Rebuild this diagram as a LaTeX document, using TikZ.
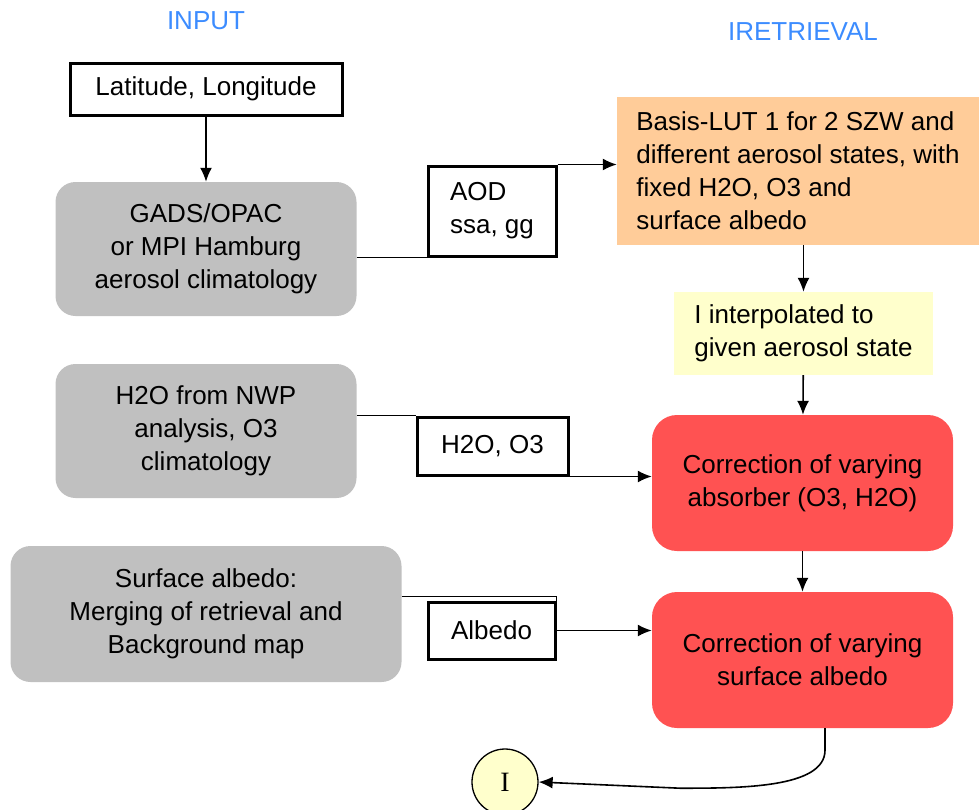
\documentclass[tikz,border=0pt]{standalone}
\usepackage{fontspec}
\setmainfont{Liberation Sans}
\newfontfamily\ifont{Liberation Serif}
\usetikzlibrary{shapes,arrows.meta,positioning}
\definecolor{titleblue}{RGB}{60,140,255}
\definecolor{climgray}{RGB}{192,192,192}
\definecolor{lutorange}{RGB}{255,204,153}
\definecolor{interpyellow}{RGB}{255,255,204}
\definecolor{corrred}{RGB}{255,82,82}
\tikzset{headline/.style={text=titleblue}}
\tikzset{inbox/.style={rectangle, draw, line width=3pt, fill=white, minimum width=272pt, minimum height=52pt, inner sep=0pt}}
\tikzset{climate/.style={rectangle, fill=climgray, rounded corners=20pt, minimum width=301pt, minimum height=134pt, align=center, inner sep=0pt}}
\tikzset{lut/.style={rectangle, fill=lutorange, minimum width=362pt, minimum height=148pt, align=left, inner sep=0pt}}
\tikzset{interp/.style={rectangle, fill=interpyellow, minimum width=259pt, minimum height=83pt, align=left, inner sep=0pt}}
\tikzset{corr/.style={rectangle, fill=corrred, rounded corners=25pt, minimum width=301pt, minimum height=136pt, align=center, inner sep=0pt}}
\tikzset{databox/.style={rectangle, draw, line width=3pt, fill=white, inner sep=0pt}}
\tikzset{endpoint/.style={circle, draw, line width=1.3pt, fill=interpyellow, minimum size=66pt, inner sep=0pt, font=\ifont\fontsize{28}{28}\selectfont}}
\tikzset{line/.style={draw, line width=1.6pt, -{Latex[length=14pt,width=12pt]}}}
\begin{document}
\begin{tikzpicture}[x=1pt, y=1pt, font=\fontsize{26}{33}\selectfont]
        \useasboundingbox (0,0) rectangle (979,-809);
        \node[headline] (inp) at (206,-21) {INPUT};
        \node[headline] (ret) at (803,-32) {IRETRIEVAL};

        \node[inbox] (latlon) at (206,-89) {Latitude, Longitude};
        \node[climate, below of=latlon, node distance=160pt] (gads) {GADS/OPAC\\or MPI Hamburg\\aerosol climatology};
        \node[climate, below of=gads, node distance=182pt] (nwp) {H2O from NWP\\analysis, O3\\climatology};
        \node[climate, minimum width=391pt, minimum height=136pt, below of=nwp, node distance=183pt] (albsrc) {Surface albedo:\\Merging of retrieval and\\Background map};

        \node[databox, minimum width=128pt, minimum height=90pt, align=left] (aod) at (492,-211) {AOD\\ssa, gg};
        \node[databox, minimum width=151pt, minimum height=58pt] (gasdat) at (492.5,-446) {H2O, O3};
        \node[databox, minimum width=127pt, minimum height=57pt] (albdat) at (491.5,-630.5) {Albedo};

        \node[lut] (basis) at (798,-171) {Basis-LUT 1 for 2 SZW and\\different aerosol states, with\\fixed H2O, O3 and\\surface albedo};
        \node[interp] (ipol) at (803.5,-333.5) {I interpolated to\\given aerosol state};
        \node[corr] (corrabs) at (802.5,-483) {Correction of varying\\absorber (O3, H2O)};
        \node[corr, below of=corrabs, node distance=177pt] (corralb) {Correction of varying\\surface albedo};
        \node[endpoint] (iout) at (505,-782) {I};
        \coordinate (albtop) at ([yshift=4pt]albdat.north east);

        \path[line] (latlon) --          (gads);
        \draw[line width=1.6pt] (gads.east |- aod.south west) -- (aod.south west);
        \path[line] (aod.north east) --  (aod.north east -| basis.west);
        \path[line] (ipol.north |- basis.south) -- (ipol.north);
        \path[line] (ipol) --            (corrabs);
        \path[line] (corrabs) --         (corralb);
        \draw[line width=1.6pt] (nwp.east |- gasdat.north west) -- (gasdat.north west);
        \path[line] (gasdat.south east) -- (gasdat.south east -| corrabs.west);
        \draw[line width=1.6pt] (albtop -| albsrc.east) -- (albtop) -- (albdat.north east);
        \path[line] (albdat.east) --     (albdat.east -| corralb.west);
        \path[line] ([xshift=22.5pt]corralb.south) -- ++(0,-22) .. controls +(0,-38) and +(60,0) .. ++(-145,-38) -- (iout.east);
      \end{tikzpicture}
\end{document}
